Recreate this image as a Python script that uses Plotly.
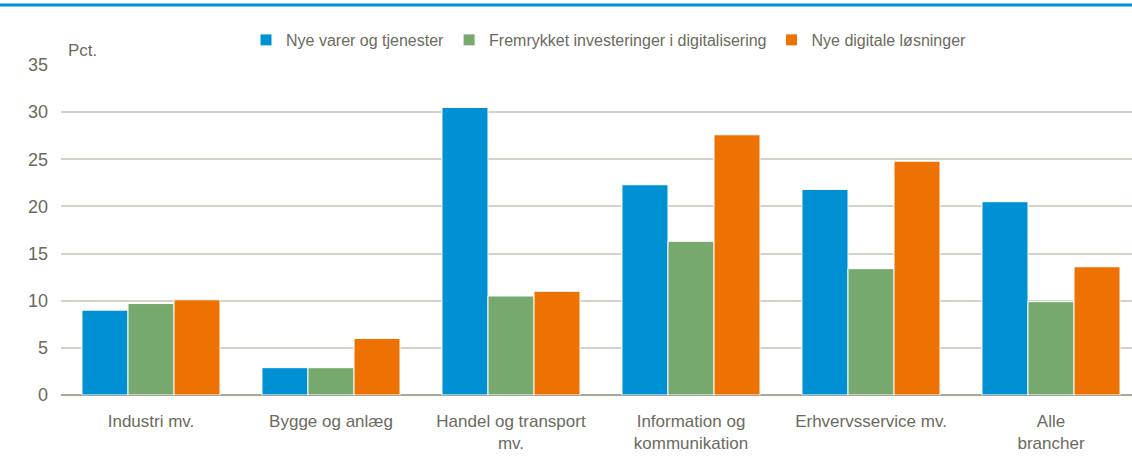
import plotly.graph_objects as go

categories = ["Industri mv.", "Bygge og anlæg", "Handel og transport<br>mv.",
              "Information og<br>kommunikation", "Erhvervsservice mv.", "Alle<br>brancher"]
series_names = ["Nye varer og tjenester", "Fremrykket investeringer i digitalisering",
                "Nye digitale løsninger"]
nye_varer = [9.0, 2.9, 30.5, 22.3, 21.8, 20.5]
fremrykket = [9.7, 2.9, 10.5, 16.3, 13.4, 9.9]
nye_digitale = [10.1, 6.0, 11.0, 27.6, 24.8, 13.6]
colors = ["#0090d4", "#77a96f", "#ee7203"]
y_ticks = [0, 5, 10, 15, 20, 25, 30, 35]

FONT = "Liberation Sans, Arial, sans-serif"
TXT = "#6b6b5d"

fig = go.Figure()
for name, vals, col in zip(series_names, [nye_varer, fremrykket, nye_digitale], colors):
    fig.add_trace(go.Bar(x=categories, y=vals, name=name,
                         marker=dict(color=col, line=dict(color="white", width=1))))

W, H = 1132, 462
ml, mr, mt, mb = 61, 0, 65, 67
pw = W - ml - mr
ph = H - mt - mb

fig.update_layout(
    width=W, height=H,
    margin=dict(l=ml, r=mr, t=mt, b=mb, autoexpand=False),
    barmode="group", bargap=0.233, bargroupgap=0.0,
    plot_bgcolor="white", paper_bgcolor="white",
    font=dict(family=FONT, color=TXT, size=17),
    legend=dict(orientation="h", x=(246 - ml) / pw, xanchor="left",
                y=1 + (mt - 40) / ph, yanchor="middle",
                font=dict(size=16, color=TXT), itemwidth=30, traceorder="normal",
                bgcolor="rgba(0,0,0,0)"),
    xaxis=dict(range=[-0.5, 5.45], showgrid=False, showline=False, ticks="",
               tickfont=dict(size=17, color=TXT), ticklabelstandoff=14),
    yaxis=dict(range=[0, 35], tickvals=y_ticks, showgrid=True, gridcolor="#d2d2c8",
               gridwidth=1.5, zeroline=True, zerolinecolor="#a8a898", zerolinewidth=1.5,
               tickfont=dict(size=18, color=TXT), ticks="", ticklabelstandoff=12,
               layer="below traces"),
    showlegend=True,
)

fig.add_annotation(text="Pct.", xref="paper", yref="paper",
                   x=(66 - ml) / pw, y=1 + (mt - 50) / ph,
                   xanchor="left", yanchor="middle",
                   showarrow=False, font=dict(size=17, color=TXT, family=FONT))

fig.add_shape(type="line", xref="paper", yref="paper",
              x0=-ml / pw, x1=1, y0=1 + (mt - 5) / ph, y1=1 + (mt - 5) / ph,
              line=dict(color="#0090d4", width=3))

fig.write_html("out.html", config={"displayModeBar": False},
               post_script="document.body.style.margin='0';document.body.style.overflow='hidden';")
